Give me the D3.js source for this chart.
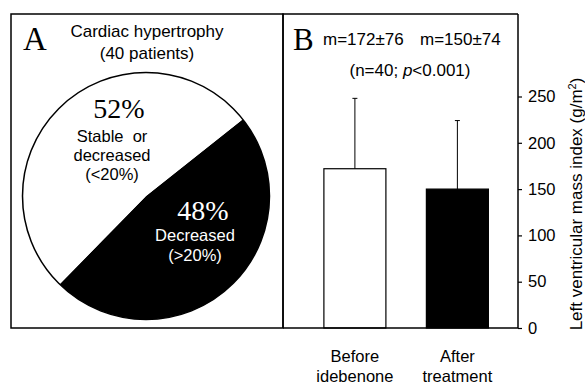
<!DOCTYPE html>
<html>
<head>
<meta charset="utf-8">
<script src="https://cdn.jsdelivr.net/npm/d3@7"></script>
<style>
  body { margin: 0; background: #fff; }
  text { font-family: "Liberation Sans", Arial, sans-serif; }
  .serif { font-family: "Liberation Serif", "Times New Roman", serif; }
</style>
</head>
<body>
<div id="chart"></div>
<script>
// panel A
const pieNames = ["Decreased", "Stable or decreased"];
const piePercent = [48, 52];
// panel B
const groups = ["Before idebenone", "After treatment"];
const means = [172, 150];
const sds = [76, 74];
const yTicks = [0, 50, 100, 150, 200, 250];

const width = 585, height = 385;
const svg = d3.select("#chart").append("svg")
  .attr("width", width)
  .attr("height", height);

// frame of both panels
const frameTop = 14, frameBottom = 328, leftA = 11, mid = 283, rightB = 518;
svg.append("rect")
  .attr("x", leftA).attr("y", frameTop)
  .attr("width", mid - leftA).attr("height", frameBottom - frameTop)
  .attr("fill", "none").attr("stroke", "#000").attr("stroke-width", 1.5);
svg.append("path")
  .attr("d", `M${mid},${frameBottom}V${frameTop}H${rightB}`)
  .attr("fill", "none").attr("stroke", "#000").attr("stroke-width", 1.5);

// ---- A: pie
const cx = 146, cy = 196, r = 123.5;
const startA = (138 - piePercent[0] * 3.6 / 2) * Math.PI / 180;
const pie = d3.pie().sort(null)
  .startAngle(startA)
  .endAngle(startA + 2 * Math.PI);
const arc = d3.arc().innerRadius(0).outerRadius(r);
const gPie = svg.append("g").attr("transform", `translate(${cx},${cy})`);
gPie.selectAll("path")
  .data(pie(piePercent))
  .join("path")
  .attr("d", arc)
  .attr("fill", (d, i) => i === 0 ? "#000" : "#fff");
gPie.append("circle").attr("r", r)
  .attr("fill", "none").attr("stroke", "#000").attr("stroke-width", 1.5);

svg.append("text").attr("class", "serif")
  .attr("x", 23).attr("y", 50).attr("font-size", 33).text("A");
svg.append("text").attr("x", 147).attr("y", 37)
  .attr("text-anchor", "middle").attr("font-size", 17).text("Cardiac hypertrophy");
svg.append("text").attr("x", 147).attr("y", 59)
  .attr("text-anchor", "middle").attr("font-size", 17).text("(40 patients)");

// white slice label
svg.append("text").attr("class", "serif")
  .attr("x", 119).attr("y", 118).attr("text-anchor", "middle")
  .attr("font-size", 28).text(piePercent[1] + "%");
[["Stable  or", 142], ["decreased", 161], ["(<20%)", 180]].forEach(([t, yy]) => {
  svg.append("text").attr("x", 112).attr("y", yy).attr("text-anchor", "middle")
    .attr("font-size", 16.5).attr("xml:space", "preserve").text(t);
});
// black slice label
svg.append("text").attr("class", "serif")
  .attr("x", 203).attr("y", 220).attr("text-anchor", "middle")
  .attr("font-size", 28).attr("fill", "#fff").text(piePercent[0] + "%");
[["Decreased", 241], ["(>20%)", 261]].forEach(([t, yy]) => {
  svg.append("text").attr("x", 195).attr("y", yy).attr("text-anchor", "middle")
    .attr("font-size", 16.5).attr("fill", "#fff").text(t);
});

// ---- B: bars
const x = d3.scaleBand().domain(groups)
  .range([mid, rightB])
  .paddingInner(0.395).paddingOuter(0.344).align(0.58);
const y = d3.scaleLinear().domain([0, 250]).range([frameBottom, 96.5]);

const gBars = svg.append("g");
gBars.selectAll("rect")
  .data(groups)
  .join("rect")
  .attr("x", d => x(d))
  .attr("y", (d, i) => y(means[i]))
  .attr("width", x.bandwidth())
  .attr("height", (d, i) => y(0) - y(means[i]))
  .attr("fill", (d, i) => i === 0 ? "#fff" : "#000")
  .attr("stroke", "#000").attr("stroke-width", 1.2);

// error bars (upper only)
gBars.selectAll("path.err")
  .data(groups)
  .join("path")
  .attr("class", "err")
  .attr("d", (d, i) => {
    const cxb = x(d) + x.bandwidth() / 2;
    return `M${cxb},${y(means[i])}V${y(means[i] + sds[i])}M${cxb - 2.5},${y(means[i] + sds[i])}h5`;
  })
  .attr("fill", "none").attr("stroke", "#000").attr("stroke-width", 1);

// right axis
const axis = d3.axisRight(y).tickValues(yTicks).tickSize(4).tickPadding(6);
const gAxis = svg.append("g").attr("transform", `translate(${rightB},0)`).call(axis);
gAxis.select(".domain").remove();
gAxis.selectAll("line").attr("stroke-width", 1.2);
gAxis.selectAll("text").attr("font-size", 16.5)
  .attr("font-family", "'Liberation Sans', Arial, sans-serif");
svg.append("line")
  .attr("x1", mid).attr("x2", rightB).attr("y1", frameBottom).attr("y2", frameBottom)
  .attr("stroke", "#000").attr("stroke-width", 1.5);
svg.append("line")
  .attr("x1", rightB).attr("x2", rightB).attr("y1", frameTop).attr("y2", frameBottom)
  .attr("stroke", "#000").attr("stroke-width", 1.5);

// y label
const yl = svg.append("text")
  .attr("transform", `translate(582,204) rotate(-90)`)
  .attr("text-anchor", "middle").attr("font-size", 17);
yl.append("tspan").text("Left ventricular mass index (g/m");
yl.append("tspan").attr("baseline-shift", "super").attr("font-size", 11).text("2");
yl.append("tspan").text(")");

// x category labels
groups.forEach(g => {
  const words = g.split(" ");
  const cxl = x(g) + x.bandwidth() / 2;
  words.forEach((w, i) => {
    svg.append("text").attr("x", cxl).attr("y", 362 + i * 19.5)
      .attr("text-anchor", "middle").attr("font-size", 16.5).text(w);
  });
});

// panel B header
svg.append("text").attr("class", "serif")
  .attr("x", 293).attr("y", 50).attr("font-size", 31).text("B");
groups.forEach((g, i) => {
  svg.append("text").attr("x", i === 0 ? 323 : 420).attr("y", 45)
    .attr("font-size", 17).text(`m=${means[i]}±${sds[i]}`);
});
const nt = svg.append("text").attr("x", 410).attr("y", 76)
  .attr("text-anchor", "middle").attr("font-size", 17);
nt.append("tspan").text("(n=40; ");
nt.append("tspan").attr("font-style", "italic").text("p");
nt.append("tspan").text("<0.001)");
</script>
</body>
</html>
